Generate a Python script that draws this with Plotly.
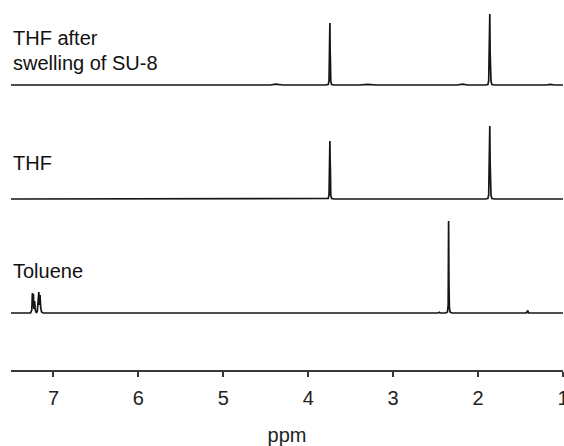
import plotly.graph_objects as go

# ---- data ----
# chemical shift (ppm) and intensity (arbitrary units) for each spectrum
toluene_ppm = [7.50, 7.27, 7.255, 7.248, 7.242, 7.236, 7.230, 7.222, 7.214, 7.200,
               7.190, 7.180, 7.172, 7.165, 7.158, 7.150, 7.140, 7.120,
               2.47, 2.455, 2.445, 2.38, 2.36, 2.352, 2.347, 2.343, 2.338, 2.33, 2.31,
               1.43, 1.415, 1.405, 1.39, 1.00]
toluene_int = [0, 0, 3, 20, 6, 19, 4, 12, 3, 0,
               2, 14, 21, 8, 18, 5, 1, 0,
               0, 0.8, 0, 0, 1, 8, 92, 30, 6, 1, 0,
               0, 2.5, 0, 0, 0]

thf_ppm = [7.50, 3.80, 3.765, 3.755, 3.751, 3.748, 3.745, 3.742, 3.739, 3.735, 3.725, 3.69,
           1.92, 1.885, 1.875, 1.870, 1.866, 1.862, 1.858, 1.854, 1.848, 1.838, 1.80, 1.00]
thf_int = [0, 0, 0.5, 4, 28, 36, 58, 38, 30, 4, 0.5, 0,
           0, 0.5, 4, 24, 34, 73, 36, 22, 4, 0.5, 0, 0]

swell_ppm = [7.50, 4.45, 4.38, 4.30, 3.80, 3.765, 3.755, 3.751, 3.748, 3.745, 3.742, 3.739,
             3.735, 3.725, 3.69, 3.40, 3.30, 3.20, 2.25, 2.18, 2.12, 1.92, 1.885, 1.875,
             1.870, 1.866, 1.862, 1.858, 1.854, 1.848, 1.838, 1.80, 1.20, 1.15, 1.10, 1.00]
swell_int = [0, 0, 0.8, 0, 0, 0.5, 4, 26, 32, 62, 34, 26,
             4, 0.5, 0, 0, 0.7, 0, 0, 0.8, 0, 0, 0.5, 4,
             22, 30, 71, 32, 20, 4, 0.5, 0, 0, 0.6, 0, 0]

spectra = [
    ("Toluene", toluene_ppm, toluene_int),
    ("THF", thf_ppm, thf_int),
    ("THF after swelling of SU-8", swell_ppm, swell_int),
]
tick_vals = [1, 2, 3, 4, 5, 6, 7]
tick_text = ["1", "2", "3", "4", "5", "6", "7"]

# ---- layout constants ----
offsets = [57, 171, 285]          # vertical stacking of the spectra
FONT = "Liberation Sans, Arial, sans-serif"

fig = go.Figure()
for (name, ppm, inten), off in zip(spectra, offsets):
    fig.add_trace(go.Scatter(
        x=ppm, y=[v + off for v in inten], mode="lines", name=name,
        line=dict(color="#151515", width=1.7), showlegend=False,
        hoverinfo="skip"))

labels = [("THF after", 332), ("swelling of SU-8", 307), ("THF", 207), ("Toluene", 99)]
for txt, yy in labels:
    fig.add_annotation(text=txt, x=0, xref="paper", y=yy, yref="y",
                       xanchor="left", yanchor="middle", showarrow=False,
                       xshift=0, font=dict(family=FONT, size=20, color="#111111"))

fig.update_layout(
    width=564, height=446,
    margin=dict(l=11, r=1, t=0, b=76, autoexpand=False),
    paper_bgcolor="white", plot_bgcolor="white",
    xaxis=dict(range=[7.5, 1.0], showgrid=False, zeroline=False, automargin=False,
               showline=True, linecolor="#383838", linewidth=2,
               ticks="outside", ticklen=5, tickwidth=1.5, tickcolor="#383838",
               tickvals=tick_vals, ticktext=tick_text, ticklabeloverflow="allow",
               ticklabelstandoff=4,
               tickfont=dict(family=FONT, size=20, color="#222222"),
               title=dict(text="ppm", standoff=22,
                          font=dict(family=FONT, size=20, color="#222222"))),
    yaxis=dict(range=[0, 370], visible=False, showgrid=False, zeroline=False),
)

fig.write_html("out.html", config={"displayModeBar": False},
               post_script="document.body.style.margin='0px';document.body.style.overflow='hidden';")
